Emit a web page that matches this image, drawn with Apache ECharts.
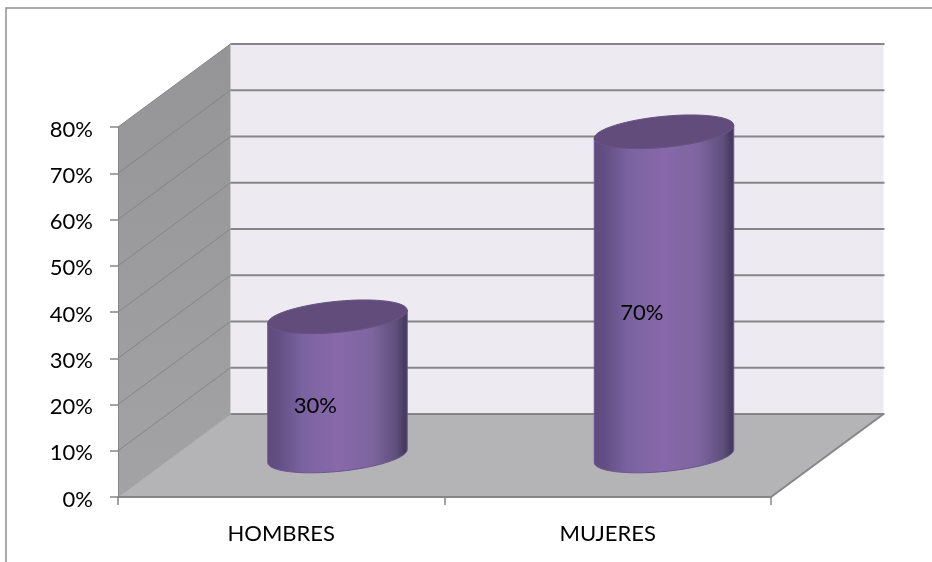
<!DOCTYPE html>
<html>
<head>
<meta charset="utf-8">
<style>html,body{margin:0;padding:0;background:#fff}#c{width:932px;height:562px}</style>
<script src="https://cdn.jsdelivr.net/npm/echarts@6/dist/echarts.min.js"></script>
</head>
<body>
<div id="c"></div>
<script>
var categories = ['HOMBRES', 'MUJERES'];
var percentValues = [30, 70];
var yTicks = [0, 10, 20, 30, 40, 50, 60, 70, 80];

var DEPTH_X = 112.5, DEPTH_Y = -83;
var FONT = 'Lato, "Open Sans", sans-serif';
var GREY = '#868686';

function line(x1, y1, x2, y2, color, width) {
  return { type: 'line', shape: { x1: x1, y1: y1, x2: x2, y2: y2 },
           style: { stroke: color, lineWidth: width }, silent: true };
}
function poly(points, fill) {
  return { type: 'polygon', shape: { points: points }, style: { fill: fill }, silent: true };
}

function renderWalls(params, api) {
  var r = params.coordSys;
  var L = r.x, R = r.x + r.width, T = r.y, B = r.y + r.height;
  var kids = [
    poly([[L + DEPTH_X, T + DEPTH_Y], [R + DEPTH_X, T + DEPTH_Y], [R + DEPTH_X, B + DEPTH_Y], [L + DEPTH_X, B + DEPTH_Y]], '#edebf1'),
    poly([[L, T], [L + DEPTH_X, T + DEPTH_Y], [L + DEPTH_X, B + DEPTH_Y], [L, B]], {
      type: 'linear', x: 0, y: 0, x2: 0, y2: 1,
      colorStops: [{ offset: 0, color: '#959497' }, { offset: 1, color: '#a3a2a5' }]
    }),
    poly([[L, B], [L + DEPTH_X, B + DEPTH_Y], [R + DEPTH_X, B + DEPTH_Y], [R, B]], '#b4b3b6')
  ];
  yTicks.forEach(function (v) {
    var y = api.coord([0, v])[1];
    kids.push(line(L, y, L + DEPTH_X, y + DEPTH_Y, v === 0 ? '#a0a0a0' : '#858585', 1));
    kids.push(line(L + DEPTH_X, y + DEPTH_Y, R + DEPTH_X + 1, y + DEPTH_Y, GREY, 2));
  });
  kids.push(line(R, B, R + DEPTH_X, B + DEPTH_Y, GREY, 2));
  return { type: 'group', children: kids };
}

function ellipsePoints(cx, cy, w, from, to) {
  var pts = [], n = 64, s = 6.5, h = 15.5;
  for (var i = 0; i <= n; i++) {
    var t = from + (to - from) * i / n;
    pts.push([cx + w * Math.cos(t), cy - s * Math.cos(t) + h * Math.sin(t)]);
  }
  return pts;
}

function renderCylinder(params, api) {
  var base = api.coord([api.value(0), 0]);
  var top = api.coord([api.value(0), api.value(1)]);
  var mid = api.coord([api.value(0), api.value(1) / 2]);
  var w = api.size([1, 0])[0] * 0.2136;
  var cx = base[0] + DEPTH_X / 2, by = base[1] + DEPTH_Y / 2 + 0.5, ty = top[1] + DEPTH_Y / 2;
  var body = ellipsePoints(cx, by, w, 0, Math.PI)
    .concat(ellipsePoints(cx, ty, w, Math.PI, 0));
  var grad = {
    type: 'linear', x: 0, y: 0, x2: 1, y2: 0,
    colorStops: [
      { offset: 0, color: '#5e4a7b' }, { offset: 0.08, color: '#634f84' },
      { offset: 0.25, color: '#7a63a0' }, { offset: 0.5, color: '#8868aa' },
      { offset: 0.75, color: '#7d659f' }, { offset: 0.92, color: '#5f4f7c' },
      { offset: 0.98, color: '#463a60' }, { offset: 1, color: '#4c3f68' }
    ]
  };
  return {
    type: 'group',
    children: [
      { type: 'polygon', shape: { points: body }, silent: true,
        style: { fill: grad, stroke: '#6b5590', lineWidth: 1 } },
      { type: 'polygon', shape: { points: ellipsePoints(cx, ty, w, 0, Math.PI * 2) }, silent: true,
        style: { fill: '#614c7c', stroke: '#67527f', lineWidth: 1 } },
      { type: 'text', silent: true,
        style: { text: api.value(1) + '%', x: base[0] + 34, y: mid[1] - 22,
                 align: 'center', verticalAlign: 'middle',
                 font: '22px ' + FONT, fill: '#000' } }
    ]
  };
}

var chart = echarts.init(document.getElementById('c'), null, { renderer: 'canvas' });
chart.setOption({
  animation: false,
  backgroundColor: '#fff',
  graphic: [{
    type: 'rect', silent: true, z: 0,
    shape: { x: 6, y: 8, width: 1200, height: 900 },
    style: { fill: 'none', stroke: '#8e8e8e', lineWidth: 1.5 }
  }],
  grid: { left: 118, top: 127, width: 653, height: 370 },
  xAxis: {
    type: 'category', data: categories, z: 10,
    axisLine: { lineStyle: { color: GREY, width: 2 } },
    axisTick: { show: true, alignWithLabel: false, length: 8, lineStyle: { color: GREY, width: 1.5 } },
    axisLabel: { margin: 26, fontFamily: FONT, fontSize: 22, color: '#000' },
    splitLine: { show: false }
  },
  yAxis: {
    type: 'value', min: 0, max: 80, interval: 10, z: 10,
    axisLine: { show: true, lineStyle: { color: GREY, width: 1 } },
    axisTick: { show: true, length: 8, lineStyle: { color: GREY, width: 1.5 } },
    axisLabel: { margin: 25, formatter: '{value}%', fontFamily: FONT, fontSize: 22, color: '#000', verticalAlign: 'top', lineHeight: 5 },
    splitLine: { show: false }
  },
  series: [
    { type: 'custom', z: 2, clip: false, renderItem: renderWalls, data: [[0, 0]], silent: true },
    { type: 'custom', z: 3, clip: false, renderItem: renderCylinder, silent: true,
      encode: { x: 0, y: 1 },
      data: categories.map(function (c, i) { return [i, percentValues[i]]; }) }
  ]
});
</script>
</body>
</html>
